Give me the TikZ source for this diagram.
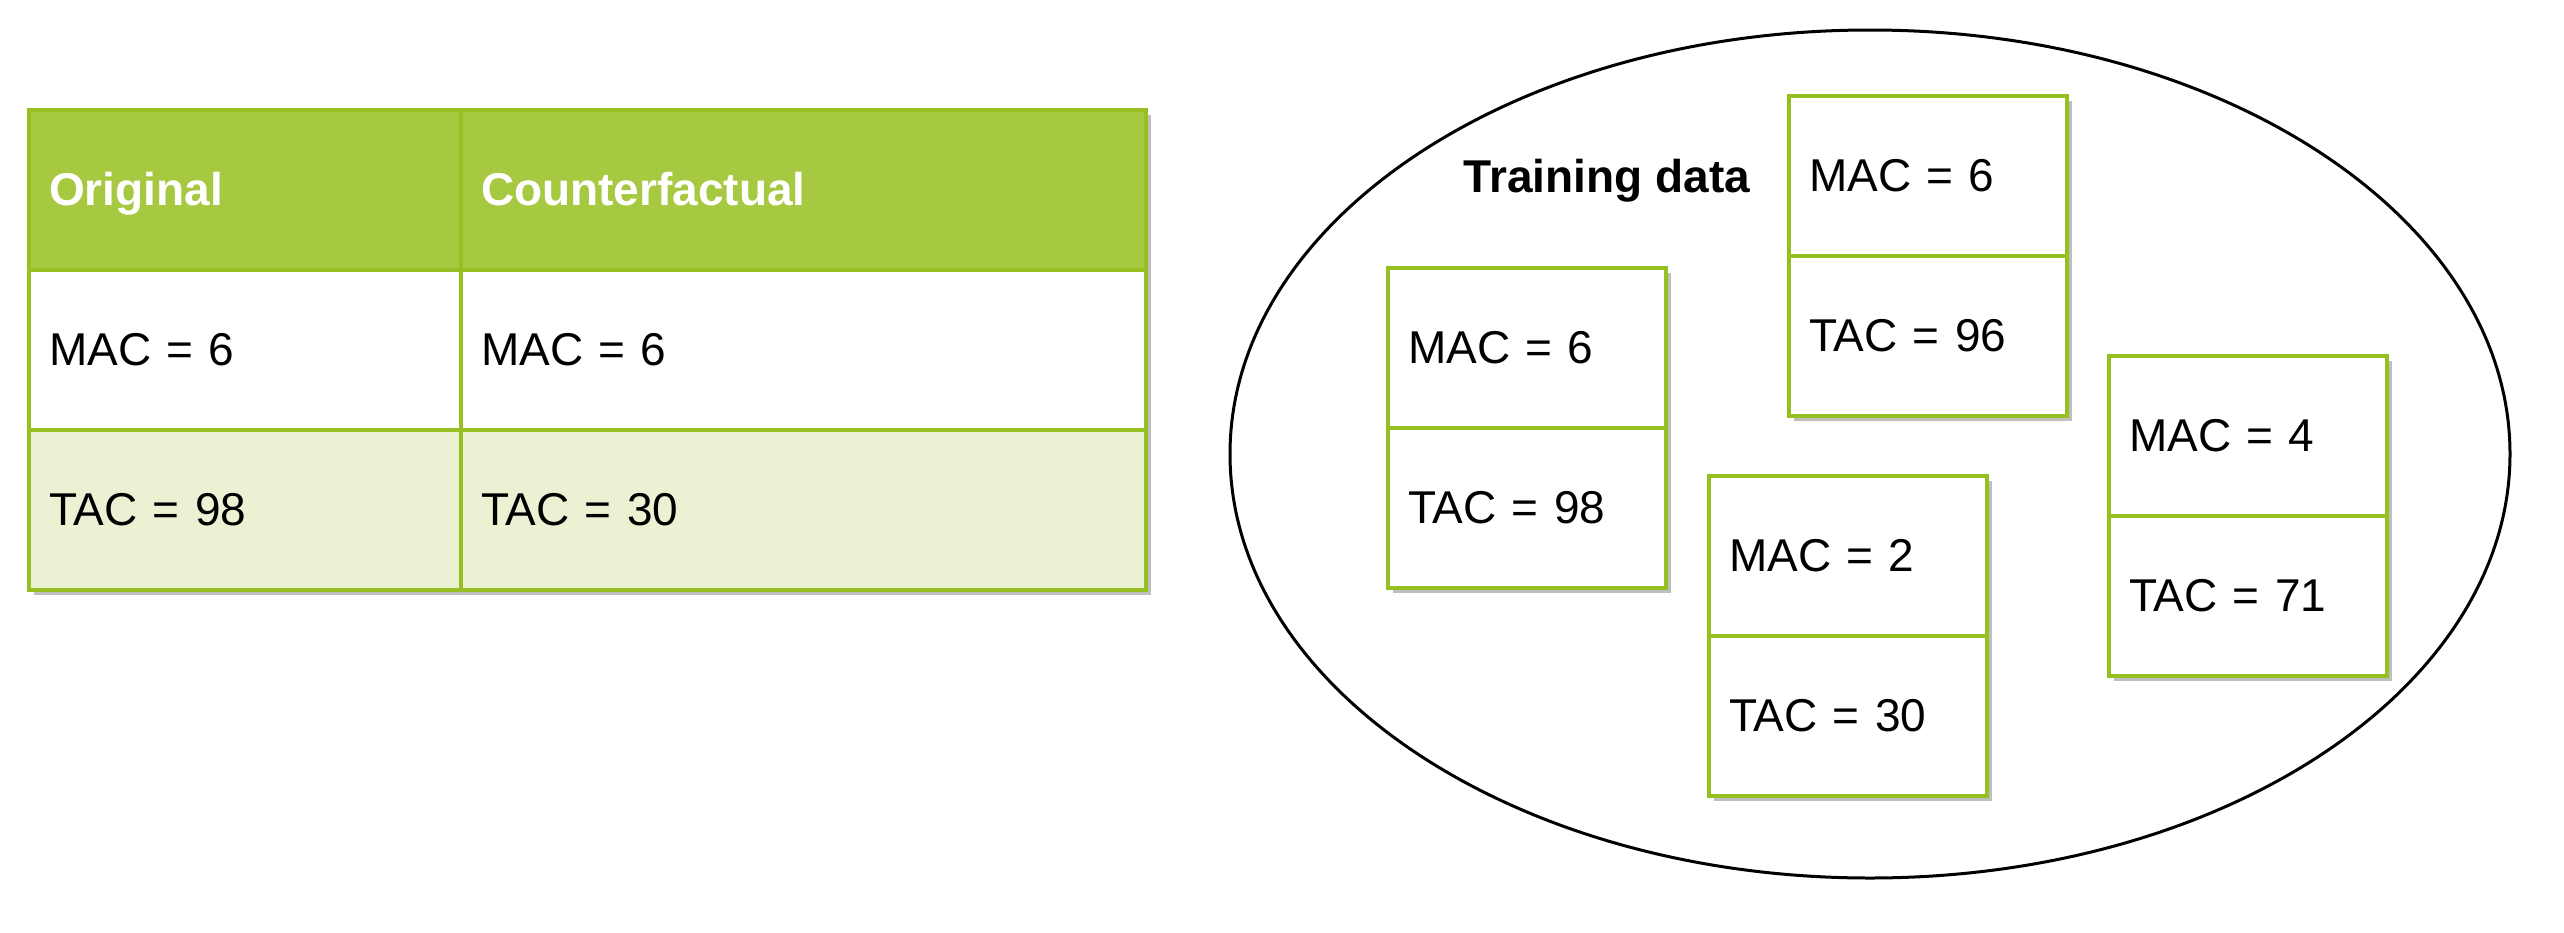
\documentclass[tikz,border=0pt]{standalone}
\usepackage{fontspec}
\setmainfont{Liberation Sans}
\usetikzlibrary{positioning,shadows,shapes.geometric}
\definecolor{tabline}{HTML}{98BF21}
\definecolor{tabhead}{HTML}{A7C942}
\definecolor{tabrow}{HTML}{EAF2D3}

\begin{document}
\begin{tikzpicture}[x=0.5pt, y=-0.5pt, node distance=0pt,
  every node/.style = {font=\fontsize{23}{27}\selectfont},
  cell/.style = {shape=rectangle, draw=tabline, line width=1.6pt,
    fill=white, outer sep=0pt, inner xsep=10pt, minimum height=80pt,
    text height=19pt, text depth=4pt,
    align=left, drop shadow={shadow xshift=2.5pt, shadow yshift=-2.5pt,
      fill=black!25, opacity=1}},
  head/.style = {cell, fill=tabhead, text=white,
    font=\fontsize{23}{27}\selectfont\bfseries},
  narrow/.style = {text width=196pt},
  wide/.style = {text width=322.5pt},
  card/.style = {cell, text width=119pt}]
  \useasboundingbox (0,0) rectangle (2564,932);

  % the table
  \node[head, narrow, anchor=north west] (orig) at (29,110) {Original};
  \node[head, wide, right=of orig] (cf) {Counterfactual};
  \node[cell, narrow, below=of orig] (origmac) {MAC = 6};
  \node[cell, wide, below=of cf] (cfmac) {MAC = 6};
  \node[cell, narrow, fill=tabrow, below=of origmac] (origtac) {TAC = 98};
  \node[cell, wide, fill=tabrow, below=of cfmac] (cftac) {TAC = 30};

  % the training data
  \node[draw, ellipse, line width=1.5pt, inner sep=0pt,
    minimum width=640pt, minimum height=424pt] (pool) at (1870,454) {};
  \node[font=\fontsize{23}{27}\selectfont\bfseries, text height=19pt,
    text depth=4pt] (pooltitle) at (1607,177) {Training data};

  \node[card, anchor=north west] (amac) at (1388,268) {MAC = 6};
  \node[card, below=of amac] (atac) {TAC = 98};
  \node[card, anchor=north west] (bmac) at (1789,96) {MAC = 6};
  \node[card, below=of bmac] (btac) {TAC = 96};
  \node[card, anchor=north west] (cmac) at (1709,476) {MAC = 2};
  \node[card, below=of cmac] (ctac) {TAC = 30};
  \node[card, anchor=north west] (dmac) at (2109,356) {MAC = 4};
  \node[card, below=of dmac] (dtac) {TAC = 71};
\end{tikzpicture}
\end{document}
